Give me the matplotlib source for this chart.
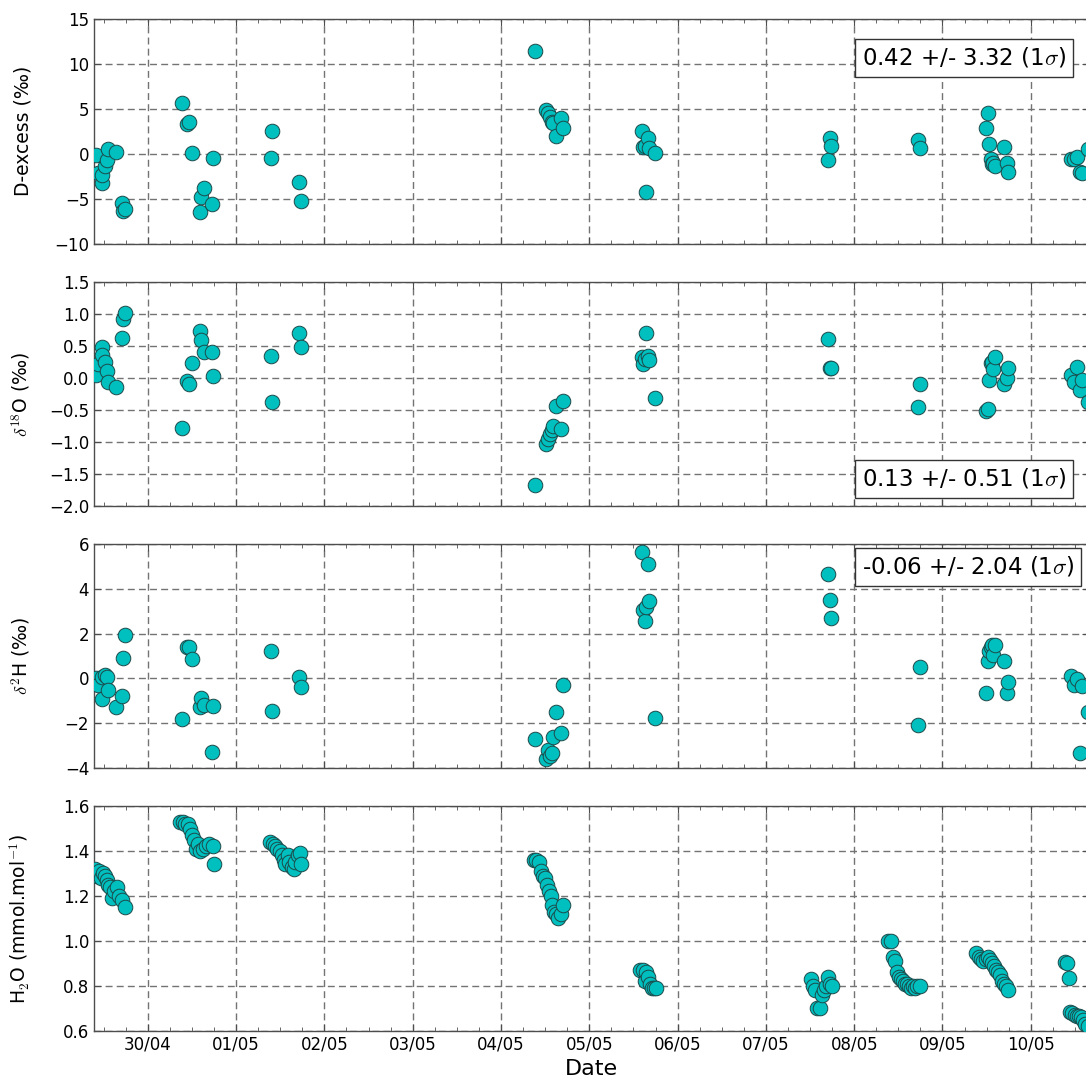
from datetime import datetime
import matplotlib
matplotlib.use('Agg')
import matplotlib.pyplot as plt
import matplotlib.dates as mdates

plt.rcParams['mathtext.fontset'] = 'cm'
plt.rcParams['font.family'] = 'DejaVu Sans'

# time of each sample, in days since 29/04 00:00
t_iso = [0.411, 0.441, 0.479, 0.486, 0.517, 0.536, 0.554, 0.641, 0.706, 0.724, 0.743,
         1.385, 1.448, 1.471, 1.498, 1.592, 1.603, 1.637, 1.725, 1.743,
         2.392, 2.404, 2.713, 2.730,
         5.385, 5.509, 5.535, 5.554, 5.574, 5.592, 5.619, 5.679, 5.698,
         6.593, 6.611, 6.630, 6.641, 6.660, 6.679, 6.743,
         8.705, 8.724, 8.741,
         9.720, 9.749,
         10.498, 10.516, 10.528, 10.544, 10.555, 10.573, 10.592, 10.694, 10.725, 10.743,
         11.453, 11.492, 11.521, 11.555, 11.577, 11.645]

dexcess = [-0.1, -2.1, -3.3, -2.4, -1.4, -0.7, 0.5, 0.2, -5.5, -6.4, -6.2,
           5.67, 3.3, 3.56, 0.04, -6.44, -4.78, -3.78, -5.6, -0.5,
           -0.44, 2.52, -3.2, -5.3,
           11.41, 4.86, 4.49, 4.1, 3.56, 3.38, 1.97, 3.93, 2.89,
           2.56, 0.78, 0.85, -4.22, 1.71, 0.6, 0.04,
           -0.70, 1.71, 0.86,
           1.48, 0.6,
           2.82, 4.49, 1.03, -0.62, -1.14, -1.0, -1.33, 0.78, -1.07, -2.0,
           -0.62, -0.62, -0.37, -2.0, -2.2, 0.5]

d18o = [0.04, 0.22, 0.48, 0.35, 0.25, 0.10, -0.07, -0.15, 0.62, 0.92, 1.01,
        -0.78, -0.05, -0.1, 0.23, 0.73, 0.59, 0.41, 0.41, 0.03,
        0.34, -0.38, 0.70, 0.48,
        -1.68, -1.03, -0.96, -0.87, -0.82, -0.75, -0.44, -0.80, -0.36,
        0.32, 0.22, 0.30, 0.70, 0.34, 0.28, -0.31,
        0.60, 0.16, 0.15,
        -0.45, -0.09,
        -0.52, -0.49, -0.04, 0.23, 0.25, 0.13, 0.32, -0.10, -0.01, 0.16,
        0.04, -0.06, 0.17, -0.19, -0.03, -0.37]

d2h = [0.0, -0.3, -0.92, 0.07, 0.15, 0.07, -0.52, -1.26, -0.77, 0.89, 1.92,
       -1.83, 1.41, 1.41, 0.85, -1.26, -0.89, -1.19, -3.3, -1.22,
       1.23, -1.44, 0.04, -0.37,
       -2.72, -3.61, -3.19, -3.45, -3.34, -2.63, -1.48, -2.42, -0.30,
       5.66, 3.04, 2.55, 3.2, 5.10, 3.45, -1.78,
       4.64, 3.52, 2.70,
       -2.07, 0.51,
       -0.66, 0.79, 1.21, 1.40, 1.51, 1.06, 1.51, 0.79, -0.66, -0.18,
       0.12, -0.28, -0.03, -3.34, -0.36, -1.48]

t_h2o = [0.403, 0.426, 0.449, 0.471, 0.494, 0.517, 0.534, 0.551, 0.573, 0.596, 0.618, 0.647, 0.675, 0.709, 0.737,
         1.366, 1.394, 1.422, 1.451, 1.479, 1.502, 1.524, 1.547, 1.569, 1.592, 1.626, 1.660, 1.694, 1.734, 1.745,
         2.385, 2.413, 2.441, 2.469, 2.498, 2.520, 2.543, 2.560, 2.583, 2.605, 2.628, 2.651, 2.673, 2.696, 2.719, 2.741,
         5.373, 5.402, 5.430, 5.453, 5.475, 5.498, 5.520, 5.543, 5.566, 5.583, 5.600, 5.622, 5.651, 5.679, 5.702,
         6.579, 6.607, 6.630, 6.647, 6.664, 6.686, 6.709, 6.732, 6.754,
         8.515, 8.538, 8.560, 8.583, 8.611, 8.640, 8.662, 8.685, 8.702, 8.724, 8.747,
         9.387, 9.415, 9.438, 9.460, 9.483, 9.506, 9.528, 9.551, 9.573, 9.596, 9.619, 9.641, 9.664, 9.687, 9.709, 9.743,
         10.383, 10.411, 10.434, 10.462, 10.491, 10.513, 10.536, 10.558, 10.581, 10.604, 10.626, 10.649, 10.672, 10.694, 10.722, 10.745,
         11.385, 11.407, 11.436, 11.447, 11.470, 11.498, 11.521, 11.543, 11.566, 11.589, 11.611, 11.645]

h2o = [1.32, 1.29, 1.31, 1.28, 1.30, 1.29, 1.27, 1.25, 1.24, 1.19, 1.22, 1.24, 1.20, 1.18, 1.15,
       1.53, 1.53, 1.52, 1.52, 1.50, 1.47, 1.45, 1.41, 1.43, 1.40, 1.41, 1.42, 1.43, 1.42, 1.34,
       1.44, 1.43, 1.42, 1.41, 1.40, 1.38, 1.36, 1.34, 1.38, 1.35, 1.33, 1.32, 1.35, 1.38, 1.39, 1.34,
       1.36, 1.36, 1.35, 1.31, 1.29, 1.28, 1.25, 1.22, 1.20, 1.16, 1.13, 1.12, 1.10, 1.12, 1.16,
       0.87, 0.87, 0.82, 0.86, 0.84, 0.81, 0.79, 0.79, 0.79,
       0.83, 0.80, 0.78, 0.70, 0.70, 0.76, 0.78, 0.80, 0.84, 0.81, 0.80,
       1.00, 1.00, 0.93, 0.91, 0.86, 0.84, 0.83, 0.82, 0.81, 0.81, 0.80, 0.79, 0.80, 0.79, 0.80, 0.80,
       0.945, 0.93, 0.92, 0.91, 0.92, 0.93, 0.915, 0.90, 0.89, 0.87, 0.86, 0.85, 0.82, 0.81, 0.80, 0.78,
       0.905, 0.90, 0.835, 0.685, 0.68, 0.67, 0.665, 0.665, 0.66, 0.65, 0.63, 0.62]

stats = ['0.42 +/- 3.32 (1$\\sigma$)', '0.13 +/- 0.51 (1$\\sigma$)', '-0.06 +/- 2.04 (1$\\sigma$)']
ylabels = ['D-excess (\u2030)', '$\\delta^{18}$O (\u2030)', '$\\delta^{2}$H (\u2030)',
           'H$_2$O (mmol.mol$^{-1}$)']
yticks = [[-10, -5, 0, 5, 10, 15],
          [-2.0, -1.5, -1.0, -0.5, 0.0, 0.5, 1.0, 1.5],
          [-4, -2, 0, 2, 4, 6],
          [0.6, 0.8, 1.0, 1.2, 1.4, 1.6]]
xlim_days = [0.392, 11.657]

base = mdates.date2num(datetime(2016, 4, 29))
x_iso = [base + t for t in t_iso]
x_h2o = [base + t for t in t_h2o]

fig = plt.figure(figsize=(10.86, 10.8), dpi=100)
# axes positions in figure fraction (left, bottom, width, height)
boxes = [(0.0866, 0.7744, 0.916, 0.2083),
         (0.0866, 0.5315, 0.916, 0.2077),
         (0.0866, 0.2889, 0.916, 0.2074),
         (0.0866, 0.0454, 0.916, 0.2083)]
axes = []
for i, b in enumerate(boxes):
    if i == 0:
        ax = fig.add_axes(b)
    else:
        ax = fig.add_axes(b, sharex=axes[0])
    axes.append(ax)

series = [(x_iso, dexcess), (x_iso, d18o), (x_iso, d2h), (x_h2o, h2o)]
for i, ax in enumerate(axes):
    xs, ys = series[i]
    ax.plot(xs, ys, ls='none', marker='o', ms=10.5, mfc='#00bfbf', mec='#1d4a4a', mew=0.7, zorder=3)
    ax.set_yticks(yticks[i])
    ax.set_ylim(yticks[i][0], yticks[i][-1])
    ax.set_ylabel(ylabels[i], fontsize=13.5)
    ax.yaxis.set_label_coords(-0.062, 0.5)
    ax.grid(True, which='major', color='0.45', linestyle=(0, (5, 3)), linewidth=1.0)
    ax.tick_params(which='both', direction='in', top=True, right=True, labelsize=12, color='0.3')
    ax.tick_params(which='major', length=5)
    ax.tick_params(which='minor', length=3)
    for s in ax.spines.values():
        s.set_color('0.3')
        s.set_linewidth(1.0)
    if i < 3:
        plt.setp(ax.get_xticklabels(), visible=False)

axes[0].set_xlim(base + xlim_days[0], base + xlim_days[1])
axes[0].xaxis.set_major_locator(mdates.DayLocator())
axes[0].xaxis.set_minor_locator(mdates.HourLocator(byhour=[0, 6, 12, 18]))
axes[0].xaxis.set_major_formatter(mdates.DateFormatter('%d/%m'))
axes[3].set_xlabel('Date', fontsize=16)

bb = dict(boxstyle='square,pad=0.3', facecolor='white', edgecolor='0.2', linewidth=1.0)
axes[0].text(0.772, 0.879, stats[0], transform=axes[0].transAxes, ha='left', va='top', fontsize=16.5, bbox=bb, zorder=5)
axes[1].text(0.772, 0.067, stats[1], transform=axes[1].transAxes, ha='left', va='bottom', fontsize=16.5, bbox=bb, zorder=5)
axes[2].text(0.772, 0.951, stats[2], transform=axes[2].transAxes, ha='left', va='top', fontsize=16.5, bbox=bb, zorder=5)

fig.savefig('out.png', dpi=100)
